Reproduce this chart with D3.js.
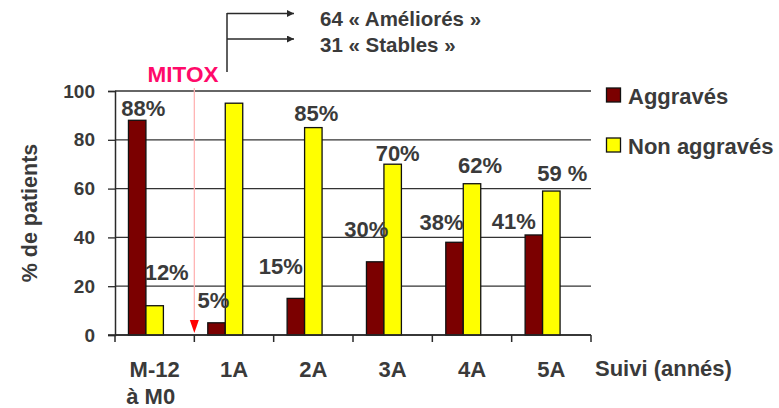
<!DOCTYPE html>
<html>
<head>
<meta charset="utf-8">
<script src="https://cdn.jsdelivr.net/npm/d3@7/dist/d3.min.js"></script>
<style>
  html, body { margin: 0; padding: 0; background: #fff; }
  svg { display: block; }
  text { font-family: "Liberation Sans", Arial, Helvetica, sans-serif; font-weight: bold; fill: #3a3a3a; }
</style>
</head>
<body>
<svg id="chart" width="779" height="408"></svg>
<script>
// Follow-up categories (first one is the 12 months before treatment)
const categories = ["M-12|à M0", "1A", "2A", "3A", "4A", "5A"];
// % of patients worsened / not worsened
const aggraves = [88, 5, 15, 30, 38, 41];
const nonAggraves = [12, 95, 85, 70, 62, 59];
const aggLabels = ["88%", "5%", "15%", "30%", "38%", "41%"];
const nonLabels = ["12%", "", "85%", "70%", "62%", "59 %"];
const yTicks = [0, 20, 40, 60, 80, 100];
const seriesNames = ["Aggravés", "Non aggravés"];
const outcomeLines = ["64 « Améliorés »", "31 « Stables »"];

// Label placement relative to the bar top (dx from bar centre, dy to baseline)
const aggLabelOffsets = [[6, -4], [-3, -15], [-15, -24], [-9, -25], [-13, -12], [-20, -6]];
const nonLabelOffsets = [[12, -26], [0, 0], [3, -7], [5, -3], [8, -11], [11, -10]];

const colors = { agg: "#7b0000", non: "#ffff00" };
const ink = "#2a2a2a";

const svg = d3.select("#chart");
svg.append("rect").attr("width", 779).attr("height", 408).attr("fill", "#fff");

const plot = { left: 115, right: 591, top: 91, bottom: 335 };

const x0 = d3.scaleBand().domain(categories).range([plot.left, plot.right]);
// three slots per category; the third one stays empty
const x1 = d3.scaleBand().domain([0, 1, 2]).range([0, x0.bandwidth()]).paddingOuter(0.77);
const y = d3.scaleLinear().domain([0, 100]).range([plot.bottom, plot.top]);

// horizontal grid
svg.append("g").selectAll("line").data(yTicks.filter(d => d > 0)).join("line")
  .attr("x1", plot.left).attr("x2", plot.right)
  .attr("y1", d => y(d)).attr("y2", d => y(d))
  .attr("stroke", "#333").attr("stroke-width", 1.3);

// y axis
const yAxis = svg.append("g").attr("transform", `translate(${plot.left},0)`)
  .call(d3.axisLeft(y).tickValues(yTicks).tickSize(7).tickPadding(13));
yAxis.select(".domain").attr("stroke", ink).attr("stroke-width", 1.5);
yAxis.selectAll(".tick line").attr("stroke", ink).attr("stroke-width", 1.3);
yAxis.selectAll(".tick text").style("font-size", "19px").attr("fill", "#3a3a3a")
  .style("font-family", "'Liberation Sans', Arial, sans-serif").style("font-weight", "bold");

// x axis with ticks at category boundaries
const boundaries = categories.map(c => x0(c)).concat([plot.right]);
const xg = svg.append("g");
xg.append("line").attr("x1", plot.left - 7).attr("x2", plot.right)
  .attr("y1", plot.bottom).attr("y2", plot.bottom)
  .attr("stroke", ink).attr("stroke-width", 1.5);
xg.selectAll("line.tk").data(boundaries).join("line").attr("class", "tk")
  .attr("x1", d => d).attr("x2", d => d)
  .attr("y1", plot.bottom).attr("y2", plot.bottom + 7)
  .attr("stroke", ink).attr("stroke-width", 1.5);

const xl = xg.selectAll("text.cat").data(categories).join("text").attr("class", "cat")
  .attr("text-anchor", "middle").style("font-size", "22px");
xl.each(function (d) {
  const parts = d.split("|");
  const cx = x0(d) + x0.bandwidth() / 2;
  parts.forEach((p, i) => {
    d3.select(this).append("tspan").attr("x", cx - (i > 0 ? 4 : 0))
      .attr("y", 377 + i * 27).text(p);
  });
});

svg.append("text").attr("x", 595).attr("y", 376).style("font-size", "22px").text("Suivi (annés)");

// y title
svg.append("text").attr("transform", "translate(37,213) rotate(-90)")
  .attr("text-anchor", "middle").style("font-size", "21.5px").text("% de patients");

// bars
const rows = categories.map((c, i) => ({ c, i, agg: aggraves[i], non: nonAggraves[i] }));
const groups = svg.append("g").selectAll("g").data(rows).join("g")
  .attr("transform", d => `translate(${x0(d.c)},0)`);

groups.append("rect")
  .attr("x", x1(0)).attr("width", x1.bandwidth())
  .attr("y", d => y(d.agg)).attr("height", d => y(0) - y(d.agg))
  .attr("fill", colors.agg).attr("stroke", "#111").attr("stroke-width", 1.3);
groups.append("rect")
  .attr("x", x1(1)).attr("width", x1.bandwidth())
  .attr("y", d => y(d.non)).attr("height", d => y(0) - y(d.non))
  .attr("fill", colors.non).attr("stroke", "#111").attr("stroke-width", 1.3);

// value labels
groups.append("text").attr("text-anchor", "middle").style("font-size", "22px")
  .attr("x", d => x1(0) + x1.bandwidth() / 2 + aggLabelOffsets[d.i][0])
  .attr("y", d => y(d.agg) + aggLabelOffsets[d.i][1])
  .text(d => aggLabels[d.i]);
groups.append("text").attr("text-anchor", "middle").style("font-size", "22px")
  .attr("x", d => x1(1) + x1.bandwidth() / 2 + nonLabelOffsets[d.i][0])
  .attr("y", d => y(d.non) + nonLabelOffsets[d.i][1])
  .text(d => nonLabels[d.i]);

// re-draw the axis line over the bar bases
svg.append("line").attr("x1", plot.left).attr("x2", plot.right)
  .attr("y1", plot.bottom).attr("y2", plot.bottom)
  .attr("stroke", ink).attr("stroke-width", 1.5);

// legend
const legend = svg.append("g");
seriesNames.forEach((name, i) => {
  const ly = 88 + i * 50;
  legend.append("rect").attr("x", 606.5).attr("y", ly).attr("width", 14).attr("height", 14)
    .attr("fill", i === 0 ? colors.agg : colors.non).attr("stroke", "#111").attr("stroke-width", 1.3);
  legend.append("text").attr("x", 628).attr("y", ly + 15.5).style("font-size", "22px").text(name);
});

// treatment start marker between the baseline year and year 1
const mx = x0(categories[1]);
svg.append("line").attr("x1", mx).attr("x2", mx).attr("y1", 88).attr("y2", 322)
  .attr("stroke", "#ffb4b4").attr("stroke-width", 1.3);
svg.append("path")
  .attr("d", `M${mx - 4.5},320 L${mx + 4.5},320 L${mx},333 Z`)
  .attr("fill", "#ff0000");
svg.append("text").attr("x", 183).attr("y", 82).attr("text-anchor", "middle")
  .style("font-size", "22.5px").style("fill", "#ff0a6a").text("MITOX");

// outcome bracket
const defs = svg.append("defs");
defs.append("marker").attr("id", "arr").attr("viewBox", "0 0 10 10")
  .attr("refX", 10).attr("refY", 5).attr("markerWidth", 7).attr("markerHeight", 7)
  .attr("markerUnits", "userSpaceOnUse").attr("orient", "auto")
  .append("path").attr("d", "M0,0 L10,5 L0,10 Z").attr("fill", ink);

const bx = 227;
svg.append("line").attr("x1", bx).attr("x2", bx).attr("y1", 13).attr("y2", 72)
  .attr("stroke", ink).attr("stroke-width", 1.5);
outcomeLines.forEach((t, i) => {
  const ly = 13.5 + i * 25.5;
  svg.append("line").attr("x1", bx).attr("x2", 294).attr("y1", ly).attr("y2", ly)
    .attr("stroke", ink).attr("stroke-width", 1.5).attr("marker-end", "url(#arr)");
  svg.append("text").attr("x", 320).attr("y", ly + 12.5).style("font-size", "20.5px").text(t);
});
</script>
</body>
</html>
